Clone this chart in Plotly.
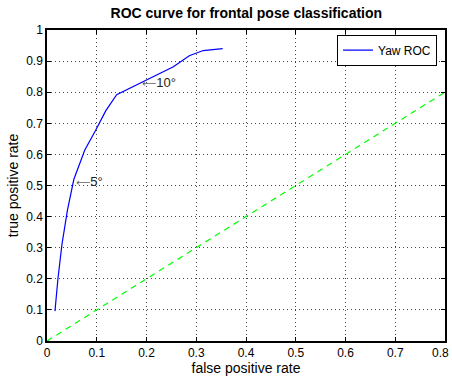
import plotly.graph_objects as go

fpr = [0.016, 0.022, 0.030, 0.041, 0.054, 0.076, 0.097, 0.118, 0.140, 0.200, 0.254, 0.286, 0.314, 0.353]
tpr = [0.096, 0.20, 0.31, 0.42, 0.52, 0.614, 0.675, 0.74, 0.792, 0.838, 0.882, 0.917, 0.934, 0.940]
chance_x = [0, 0.8]
chance_y = [0, 0.8]
xticks = [0, 0.1, 0.2, 0.3, 0.4, 0.5, 0.6, 0.7, 0.8]
yticks = [0, 0.1, 0.2, 0.3, 0.4, 0.5, 0.6, 0.7, 0.8, 0.9, 1]
notes = [(0.186, 0.83, "10\u00b0"), (0.054, 0.512, "5\u00b0")]

FONT = "Liberation Sans, Arial, sans-serif"

fig = go.Figure()
fig.add_trace(go.Scatter(x=fpr, y=tpr, mode="lines", name="Yaw ROC",
                         line=dict(color="#0000ff", width=1.2)))
fig.add_trace(go.Scatter(x=chance_x, y=chance_y, mode="lines", showlegend=False,
                         line=dict(color="#00ff00", width=1.2, dash="6px,5px")))

for x, y, t in notes:
    fig.add_annotation(x=x, y=y, showarrow=False, xanchor="left", yanchor="middle",
                       text='<span style="font-family:DejaVu Sans;font-size:10px;color:#666666">\u27f5</span>' + t,
                       font=dict(family=FONT, size=13, color="#222222"))

axis_common = dict(showline=True, linecolor="black", linewidth=1.5, mirror="ticks",
                   ticks="inside", ticklen=4, tickcolor="black",
                   showgrid=True, gridcolor="#444444", griddash="1px,3px", gridwidth=1,
                   zeroline=False, automargin=False,
                   tickfont=dict(family=FONT, size=12, color="black"))

# last x tick label would overflow the page edge; draw it as an annotation kept inside
xtext = [f"{v:g}" for v in xticks]
fig.add_annotation(x=xticks[-1], y=0, xref="x", yref="paper", yanchor="top", yshift=-3,
                   xanchor="right", xshift=6,
                   text=xtext[-1], showarrow=False, font=dict(family=FONT, size=12, color="black"))
xtext[-1] = ""

fig.update_xaxes(range=[0, 0.8], tickvals=xticks, ticktext=xtext,
                 title=dict(text="false positive rate", font=dict(family=FONT, size=14, color="black"), standoff=2),
                 **axis_common)
fig.update_yaxes(range=[0, 1], tickvals=yticks, ticktext=[f"{v:g}" for v in yticks],
                 title=dict(text="true positive rate", font=dict(family=FONT, size=14, color="black"), standoff=4),
                 **axis_common)

fig.update_layout(
    width=452, height=379,
    margin=dict(l=47, r=7, t=30, b=38),
    paper_bgcolor="white", plot_bgcolor="white",
    title=dict(text="<b>ROC curve for frontal pose classification</b>", x=0.545, xanchor="center",
               y=0.966, yanchor="middle", font=dict(family=FONT, size=14, color="black")),
    legend=dict(x=0.98, y=0.985, xanchor="right", yanchor="top", bgcolor="white",
                bordercolor="black", borderwidth=1, font=dict(family=FONT, size=12, color="black"),
                tracegroupgap=0),
    showlegend=True,
)

fig.write_html("out.html")
